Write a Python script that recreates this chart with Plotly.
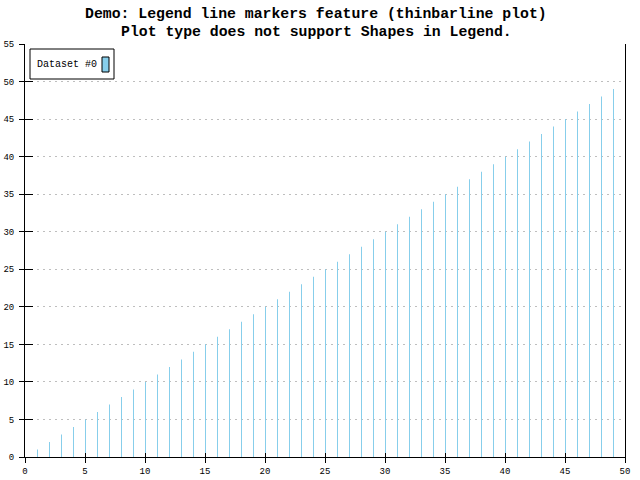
import plotly.graph_objects as go

x_values = [0, 1, 2, 3, 4, 5, 6, 7, 8, 9, 10, 11, 12, 13, 14, 15, 16, 17, 18, 19,
            20, 21, 22, 23, 24, 25, 26, 27, 28, 29, 30, 31, 32, 33, 34, 35, 36, 37, 38, 39,
            40, 41, 42, 43, 44, 45, 46, 47, 48, 49]
y_values = [0, 1, 2, 3, 4, 5, 6, 7, 8, 9, 10, 11, 12, 13, 14, 15, 16, 17, 18, 19,
            20, 21, 22, 23, 24, 25, 26, 27, 28, 29, 30, 31, 32, 33, 34, 35, 36, 37, 38, 39,
            40, 41, 42, 43, 44, 45, 46, 47, 48, 49]
series_name = "Dataset #0"
title_lines = ["Demo: Legend line markers feature (thinbarline plot)",
               "Plot type does not support Shapes in Legend."]

BAR_COLOR = "#87CEEB"
BAR_FILL = "rgba(135,206,235,0.999)"
FONT = "Liberation Mono, DejaVu Sans Mono, monospace"

fig = go.Figure()
fig.add_trace(go.Bar(x=x_values, y=y_values, width=1 / 12, offset=0, name=series_name,
                     marker=dict(color=BAR_FILL, line=dict(width=0)),
                     showlegend=False))

fig.update_layout(
    width=640, height=480,
    margin=dict(l=25, r=15, t=44, b=23, autoexpand=False),
    paper_bgcolor="white", plot_bgcolor="white",
    showlegend=False,
    xaxis=dict(range=[0, 50], tickmode="linear", tick0=0, dtick=5, automargin=False,
               showgrid=False, zeroline=False, showline=True, linecolor="black",
               linewidth=1, ticks="outside", ticklen=5, tickcolor="black",
               tickfont=dict(family=FONT, size=9, color="black")),
    yaxis=dict(range=[0, 55], tickmode="linear", tick0=0, dtick=5, automargin=False,
               showgrid=True, gridcolor="#BEBEBE", griddash="2px,4px", gridwidth=1,
               zeroline=False, showline=True, mirror=True, linecolor="black",
               linewidth=1, ticks="outside", ticklen=5, tickcolor="black",
               ticklabelstandoff=3,
               tickfont=dict(family=FONT, size=9, color="black")),
    xaxis2=dict(range=[0, 50], overlaying="x", tickmode="linear", tick0=0, dtick=5,
                automargin=False,
                showgrid=False, zeroline=False, showline=False, ticks="inside",
                ticklen=4, tickcolor="black", showticklabels=False, side="bottom"),
    yaxis2=dict(range=[0, 55], overlaying="y", tickmode="linear", tick0=0, dtick=5,
                automargin=False,
                showgrid=False, zeroline=False, showline=False, ticks="inside",
                ticklen=8, tickcolor="black", showticklabels=False, side="left"),
)

fig.add_trace(go.Scatter(x=[None], y=[None], xaxis="x2", yaxis="y2",
                         showlegend=False, hoverinfo="skip"))

TITLE_X = (316 - 25) / 600
fig.add_annotation(text="<b>" + title_lines[0] + "</b>", xref="paper", yref="paper",
                   x=TITLE_X, y=1, yshift=20, xanchor="center", yanchor="bottom",
                   showarrow=False, font=dict(family=FONT, size=14.8, color="black"))
fig.add_annotation(text="<b>" + title_lines[1] + "</b>", xref="paper", yref="paper",
                   x=TITLE_X, y=1, yshift=2, xanchor="center", yanchor="bottom",
                   showarrow=False, font=dict(family=FONT, size=14.8, color="black"))

# manual legend box (text then swatch, as in the reference)
fig.add_shape(type="rect", xref="paper", yref="paper",
              x0=(30 - 25) / 600, x1=(114 - 25) / 600,
              y0=(457 - 79) / 413, y1=(457 - 49) / 413,
              line=dict(color="black", width=1), fillcolor="white")
fig.add_shape(type="rect", xref="paper", yref="paper",
              x0=(102 - 25) / 600, x1=(109 - 25) / 600,
              y0=(457 - 72) / 413, y1=(457 - 57) / 413,
              line=dict(color="black", width=1), fillcolor=BAR_COLOR)
fig.add_annotation(text=series_name, xref="paper", yref="paper",
                   x=(35 - 25) / 600, y=(457 - 64.5) / 413, xanchor="left", yanchor="middle",
                   showarrow=False, font=dict(family=FONT, size=10, color="black"))

fig.write_html("out.html", config={"displayModeBar": False},
               post_script="document.body.style.margin='0';document.body.style.overflow='hidden';")
